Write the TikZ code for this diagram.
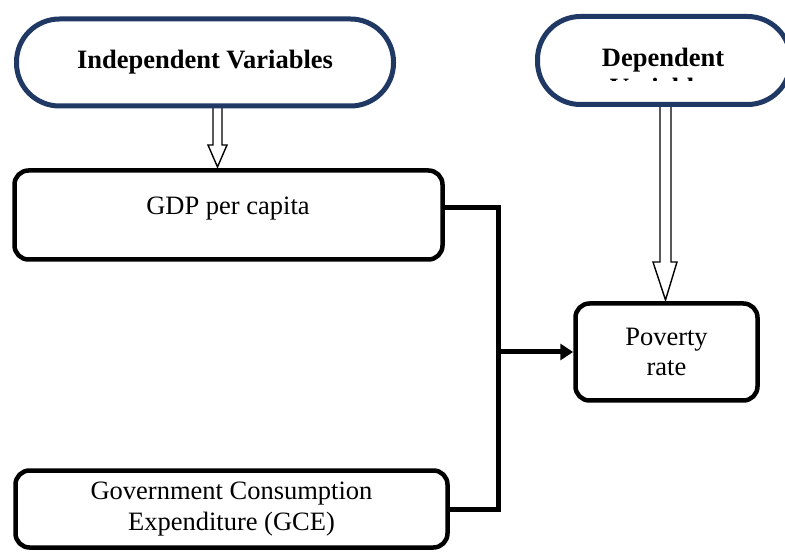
\documentclass[tikz,border=0pt]{standalone}
\usepackage{fontspec}
\setmainfont{Liberation Serif}
\usetikzlibrary{arrows.meta}
\definecolor{pillblue}{RGB}{31,56,100}
\begin{document}
\begin{tikzpicture}[x=1pt,y=-1pt,
  txt/.style={font=\fontsize{26.5}{30.5}\selectfont,align=center,inner sep=0pt},
  pill/.style={draw=pillblue,line width=5pt,rounded corners=43pt,fill=white,inner sep=0pt},
  varbox/.style={draw=black,line width=4.5pt,rounded corners=14pt,fill=white,inner sep=0pt},
  hollow/.style={draw=black,line width=1.4pt,fill=white,line join=miter},
  conn/.style={draw=black,line width=5pt,line join=miter}]
\useasboundingbox (0,0) rectangle (785,553);
% hollow arrows
\draw[hollow] (213,104) -- (213,145) -- (208,145) -- (217.5,167) -- (227,145) -- (222,145) -- (222,104) -- cycle;
\draw[hollow] (660,104) -- (660,262) -- (653,262) -- (665.5,300) -- (677,262) -- (671,262) -- (671,104) -- cycle;
% pills
\node[pill,txt,minimum width=377pt,minimum height=87pt] (indep) at (205,62.5) {\bfseries Independent Variables};
\node[pill,minimum width=253pt,minimum height=88pt] (dep) at (664,60.5) {};
\begin{scope}
\clip (540,20) rectangle (780,81);
\node[txt,font=\fontsize{26.5}{30}\selectfont\bfseries,anchor=north] (deptext) at (663,47.5) {Dependent\\Variables};
\end{scope}
% variable boxes
\node[varbox,minimum width=428pt,minimum height=89pt] (gdp) at (228.5,215) {};
\node[txt] (gdpt) at (228,208.5) {GDP per capita};
\node[varbox,txt,minimum width=432pt,minimum height=77pt] (gce) at (231.5,509) {Government Consumption\\Expenditure (GCE)};
\node[varbox,txt,minimum width=182pt,minimum height=97pt] (pov) at (666.5,352) {Poverty\\rate};
% connectors
\coordinate (jt) at (498,208);
\coordinate (jm) at (498,352);
\coordinate (jb) at (498,509);
\draw[conn] ([yshift=7pt]gdp.east) -- (jt) -- (jb) -- (gce.east);
\draw[conn,-{Triangle[length=13pt,width=16pt]}] (jm) -- (pov.west);
\end{tikzpicture}
\end{document}
